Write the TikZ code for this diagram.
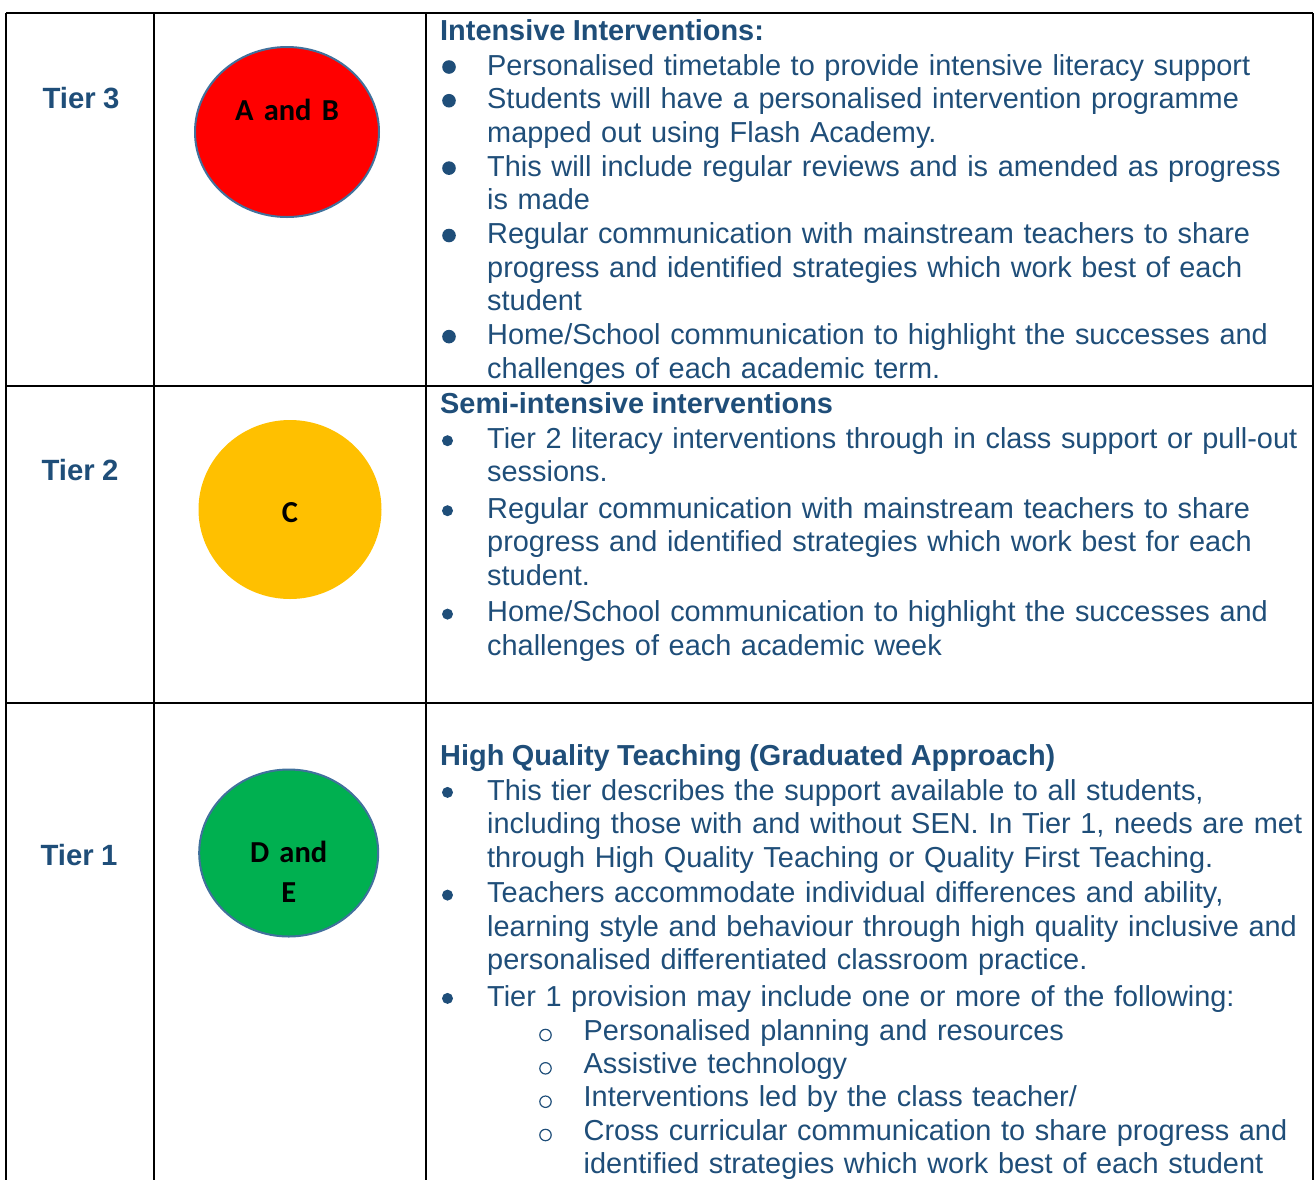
\documentclass[tikz,border=0pt]{standalone}
\usepackage{fontspec}
\setmainfont{Liberation Sans}[WordSpace=0.92]
\newfontfamily\dotfont{Carlito}
\usepackage{tikz}
\usetikzlibrary{shapes.geometric}

\definecolor{tierblue}{RGB}{31,78,121}
\definecolor{rimblue}{RGB}{65,113,156}
\definecolor{tred}{RGB}{255,0,0}
\definecolor{tamber}{RGB}{255,192,0}
\definecolor{tgreen}{RGB}{0,176,80}

\begin{document}
\begin{tikzpicture}[x=1pt,y=-1pt,
  rule/.style={line width=1.8pt},
  tierlab/.style={anchor=base, inner sep=0pt, text=tierblue, font=\bfseries\fontsize{29.3}{34}\selectfont},
  dot/.style={ellipse, inner sep=0pt, line width=2pt},
  dotlab/.style={anchor=base, inner sep=0pt, text width=170pt, align=center, font=\dotfont\bfseries\fontsize{30.5}{40}\selectfont},
  head/.style={anchor=base west, inner sep=0pt, text=tierblue, font=\bfseries\fontsize{28.9}{33.6}\selectfont},
  item/.style={anchor=base west, inner sep=0pt, text=tierblue, text width=860pt, align=left, font=\fontsize{28.9}{33.6}\selectfont}]
\useasboundingbox (0,0) rectangle (1315,1179);
% table rules
\draw [rule] (6,13) -- (1313,13);
\draw [rule] (6,386) -- (1313,386);
\draw [rule] (6,703) -- (1313,703);
\foreach \x in {6,154,426,1313}
  \draw [rule] (\x,13) -- (\x,1185);
% tier names
\node [tierlab] (tier3) at (81,108.5) {Tier 3};
\node [tierlab] (tier2) at (80,480) {Tier 2};
\node [tierlab] (tier1) at (79,865.7) {Tier 1};
% traffic lights
\node [dot, draw=rimblue, fill=tred, minimum width=184pt, minimum height=170pt] (dot3) at (287,132) {};
\node [dot, fill=tamber, minimum width=183pt, minimum height=179pt] (dot2) at (290,509.5) {};
\node [dot, draw=rimblue, fill=tgreen, minimum width=179pt, minimum height=167pt] (dot1) at (288.7,853) {};
\node [dotlab] (lab3) at (287,120) {A and B};
\node [dotlab] (lab2) at (290,522.7) {C};
\node [dotlab] (lab1) at (288.7,862.7) {D and\\E};
% tier 3 text
\node [head] (head3) at (440,40) {Intensive Interventions:};
\node [item] (i31) at (487,75) {Personalised timetable to provide intensive literacy support};
\node [item] (i32) at (487,108.7) {Students will have a personalised intervention programme\\mapped out using Flash Academy.};
\node [item] (i33) at (487,176.1) {This will include regular reviews and is amended as progress\\is made};
\node [item] (i34) at (487,243.5) {Regular communication with mainstream teachers to share\\progress and identified strategies which work best of each\\student};
\node [item] (i35) at (487,344.6) {Home/School communication to highlight the successes and\\challenges of each academic term.};
\foreach \b in {75,108.7,176.1,243.5,344.6}
  \fill [tierblue] (449,\b-8) circle (6.8pt);
% tier 2 text
\node [head] (head2) at (440,413) {Semi-intensive interventions};
\node [item] (i21) at (487,448.3) {Tier 2 literacy interventions through in class support or pull-out\\sessions.};
\node [item] (i22) at (487,518.3) {Regular communication with mainstream teachers to share\\progress and identified strategies which work best for each\\student.};
\node [item] (i23) at (487,621.7) {Home/School communication to highlight the successes and\\challenges of each academic week};
\foreach \b in {448.3,518.3,621.7}
  \fill [tierblue] (447.5,\b-7.6) circle (5.5pt);
% tier 1 text
\node [head] (head1) at (440,765) {High Quality Teaching (Graduated Approach)};
\node [item] (i11) at (487,800) {This tier describes the support available to all students,\\including those with and without SEN. In Tier 1, needs are met\\through High Quality Teaching or Quality First Teaching.};
\node [item] (i12) at (487,902.7) {Teachers accommodate individual differences and ability,\\learning style and behaviour through high quality inclusive and\\personalised differentiated classroom practice.};
\node [item] (i13) at (487,1006) {Tier 1 provision may include one or more of the following:};
\foreach \b in {800,902.7,1006}
  \fill [tierblue] (447.5,\b-7.6) circle (5.5pt);
\node [item] (s11) at (583.5,1040) {Personalised planning and resources};
\node [item] (s12) at (583.5,1073.3) {Assistive technology};
\node [item] (s13) at (583.5,1106.7) {Interventions led by the class teacher/};
\node [item] (s14) at (583.5,1140) {Cross curricular communication to share progress and\\identified strategies which work best of each student};
\foreach \b in {1040,1073.3,1106.7,1140}
  \draw [tierblue, line width=1.2pt] (545.5,\b-5) circle (5.7pt);
\end{tikzpicture}
\end{document}
